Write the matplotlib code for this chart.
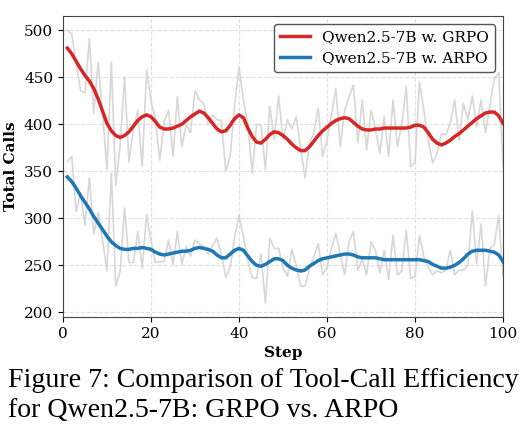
import matplotlib.pyplot as plt
import numpy as np

# steps 1..100
steps = np.arange(1, 101)

# raw tool-call counts (gray lines)
grpo_raw = [500, 496, 465, 436, 433, 491, 412, 466, 412, 352,
            466, 335, 378, 450, 360, 394, 415, 355, 458, 425,
            405, 362, 403, 415, 366, 429, 376, 400, 391, 436,
            426, 422, 400, 410, 405, 404, 350, 366, 420, 461,
            426, 400, 348, 400, 399, 352, 419, 384, 430, 384,
            405, 395, 408, 375, 343, 380, 391, 417, 366, 383,
            410, 438, 376, 415, 429, 442, 380, 426, 373, 415,
            395, 369, 408, 366, 426, 376, 400, 440, 355, 359,
            445, 415, 383, 359, 369, 390, 389, 401, 426, 383,
            422, 405, 430, 397, 426, 391, 420, 448, 455, 355]

arpo_raw = [360, 366, 307, 327, 293, 343, 283, 306, 277, 244,
            348, 228, 244, 311, 253, 253, 286, 247, 304, 276,
            253, 254, 254, 277, 251, 286, 251, 270, 260, 277,
            273, 270, 262, 271, 279, 262, 237, 248, 280, 303,
            280, 255, 237, 236, 262, 210, 279, 268, 268, 248,
            238, 267, 250, 228, 228, 246, 259, 273, 240, 248,
            268, 284, 262, 240, 275, 286, 245, 256, 240, 275,
            266, 242, 266, 235, 282, 240, 244, 287, 236, 238,
            282, 259, 248, 240, 244, 242, 245, 266, 240, 245,
            245, 250, 308, 252, 294, 228, 268, 272, 303, 238]

# smoothed curves
grpo_smooth = [481, 475, 467, 459, 452, 446, 438, 427, 414, 401,
               393, 388, 386, 388, 392, 398, 404, 408, 410, 408,
               403, 397, 395, 395, 396, 398, 400, 404, 408, 411,
               414, 412, 407, 401, 395, 392, 393, 399, 406, 410,
               407, 396, 387, 381, 380, 384, 389, 392, 391, 388,
               384, 379, 375, 372, 372, 376, 382, 388, 393, 397,
               401, 404, 406, 407, 406, 402, 398, 395, 394, 394,
               395, 395, 396, 396, 396, 396, 396, 396, 397, 399,
               399, 397, 391, 384, 380, 378, 380, 383, 387, 390,
               394, 398, 402, 406, 409, 412, 413, 413, 409, 401]

arpo_smooth = [344, 339, 332, 324, 317, 310, 302, 295, 288, 281,
               275, 271, 268, 267, 267, 268, 268, 269, 268, 267,
               264, 262, 261, 262, 263, 264, 265, 265, 266, 268,
               269, 268, 267, 265, 261, 258, 258, 262, 266, 268,
               266, 260, 254, 250, 249, 251, 254, 257, 257, 255,
               250, 247, 245, 244, 245, 249, 252, 255, 257, 258,
               259, 260, 261, 262, 262, 261, 259, 258, 258, 258,
               258, 257, 256, 256, 256, 256, 256, 256, 256, 256,
               256, 255, 254, 251, 249, 247, 247, 248, 250, 253,
               257, 262, 265, 266, 266, 266, 265, 264, 261, 254]

labels = ["Qwen2.5-7B w. GRPO", "Qwen2.5-7B w. ARPO"]
caption = ["Figure 7: Comparison of Tool-Call Efficiency",
           "for Qwen2.5-7B: GRPO vs. ARPO"]

plt.rcParams['font.family'] = 'DejaVu Serif'

fig = plt.figure(figsize=(5.29, 4.25), dpi=100)
ax = fig.add_axes([0.119, 0.254, 0.832, 0.708])

ax.plot(steps, grpo_raw, color='lightgray', lw=1.2, alpha=0.9)
ax.plot(steps, arpo_raw, color='lightgray', lw=1.2, alpha=0.9)
ax.plot(steps, grpo_smooth, color='#d62728', lw=2.5, label=labels[0])
ax.plot(steps, arpo_smooth, color='#1f77b4', lw=2.5, label=labels[1])

ax.set_xlim(0, 100)
ax.set_ylim(195, 515)
ax.set_xticks(np.arange(0, 101, 20))
ax.set_yticks(np.arange(200, 501, 50))
ax.tick_params(labelsize=11)
ax.grid(True, linestyle='--', color='lightgray', alpha=0.7)
for s in ax.spines.values():
    s.set_color('#444444')

ax.set_xlabel("Step", fontsize=11, fontweight='bold')
ax.set_ylabel("Total Calls", fontsize=11, fontweight='bold')

leg = ax.legend(loc='upper right', fontsize=11, frameon=True, fancybox=True,
                edgecolor='#555555', framealpha=1, handlelength=2.0)

# caption, two lines, left aligned
fig.text(0.0151, 0.0901, caption[0], ha='left', va='baseline', fontsize=20.1,
         family='Liberation Serif')
fig.text(0.0151, 0.0181, caption[1], ha='left', va='baseline', fontsize=20.1,
         family='Liberation Serif')

fig.savefig("out.png", dpi=100)
